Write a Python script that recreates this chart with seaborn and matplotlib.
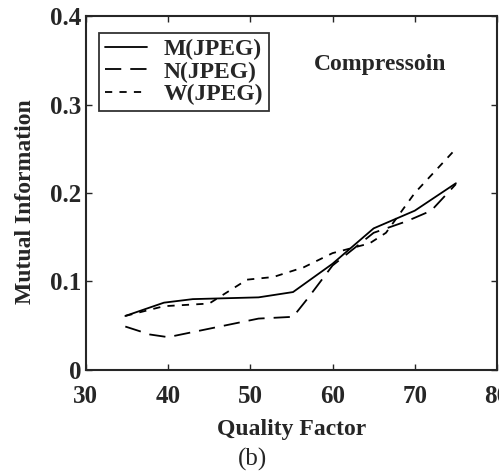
import matplotlib
matplotlib.use('Agg')
import matplotlib.pyplot as plt
import seaborn as sns
import pandas as pd

# Values
m_x = [34.8, 39.5, 43.0, 51.0, 55.2, 60.0, 65.0, 70.0, 75.0]
m_y = [0.061, 0.076, 0.080, 0.082, 0.088, 0.120, 0.160, 0.180, 0.211]

n_x = [34.8, 37.8, 40.0, 51.0, 55.2, 57.0, 60.0, 65.0, 69.0, 72.0, 75.0]
n_y = [0.049, 0.040, 0.037, 0.058, 0.060, 0.081, 0.118, 0.155, 0.168, 0.180, 0.210]

w_x = [34.8, 39.5, 45.0, 49.6, 52.8, 56.5, 60.0, 64.5, 66.5, 70.0, 75.0]
w_y = [0.061, 0.072, 0.075, 0.102, 0.105, 0.116, 0.132, 0.143, 0.155, 0.200, 0.250]

series = [
    ("M(JPEG)", m_x, m_y, "-"),
    ("N(JPEG)", n_x, n_y, (0, (9, 5))),
    ("W(JPEG)", w_x, w_y, (0, (4, 4))),
]

sns.set_style("ticks")
plt.rcParams['font.family'] = ['Liberation Serif', 'DejaVu Serif']
plt.rcParams['font.weight'] = 'bold'

fig = plt.figure(figsize=(4.99, 4.73), dpi=100)
ax = fig.add_axes([0.172, 0.218, 0.824, 0.748])

for name, xs, ys, ls in series:
    df = pd.DataFrame({"q": xs, "mi": ys})
    sns.lineplot(data=df, x="q", y="mi", ax=ax, color="black", linewidth=1.3,
                 linestyle=ls, label=name, sort=False)

ax.set_xlim(30, 80)
ax.set_ylim(0, 0.4)
ax.set_xticks([30, 40, 50, 60, 70, 80])
ax.set_yticks([0, 0.1, 0.2, 0.3, 0.4])
ax.set_yticklabels(["0", "0.1", "0.2", "0.3", "0.4"])
ax.tick_params(direction="in", top=True, right=True, length=4, width=1,
               labelsize=18)
ax.tick_params(axis="x", pad=11)
ax.tick_params(axis="y", pad=3)
for lab in ax.get_xticklabels() + ax.get_yticklabels():
    lab.set_fontweight("bold")
for sp in ax.spines.values():
    sp.set_linewidth(1.5)

ax.set_xlabel("Quality Factor", fontsize=17, fontweight="bold", labelpad=8)
ax.set_ylabel("Mutual Information", fontsize=17, fontweight="bold")
ax.yaxis.set_label_coords(-0.122, 0.475)

ax.text(0.715, 0.862, "Compressoin", transform=ax.transAxes, ha="center",
        va="center", fontsize=17, fontweight="bold")

leg = ax.legend(loc="upper left", bbox_to_anchor=(0.0, 0.99), fontsize=17,
                frameon=True, fancybox=False, edgecolor="black",
                handlelength=1.8, handletextpad=0.7, borderpad=0.25,
                labelspacing=0.05, borderaxespad=0.55)
leg.get_frame().set_linewidth(1.3)
for t in leg.get_texts():
    t.set_fontweight("bold")

fig.text(0.507, 0.028, "(b)", ha="center", va="center", fontsize=18,
         fontweight="normal")

fig.savefig("out.png", dpi=100)
